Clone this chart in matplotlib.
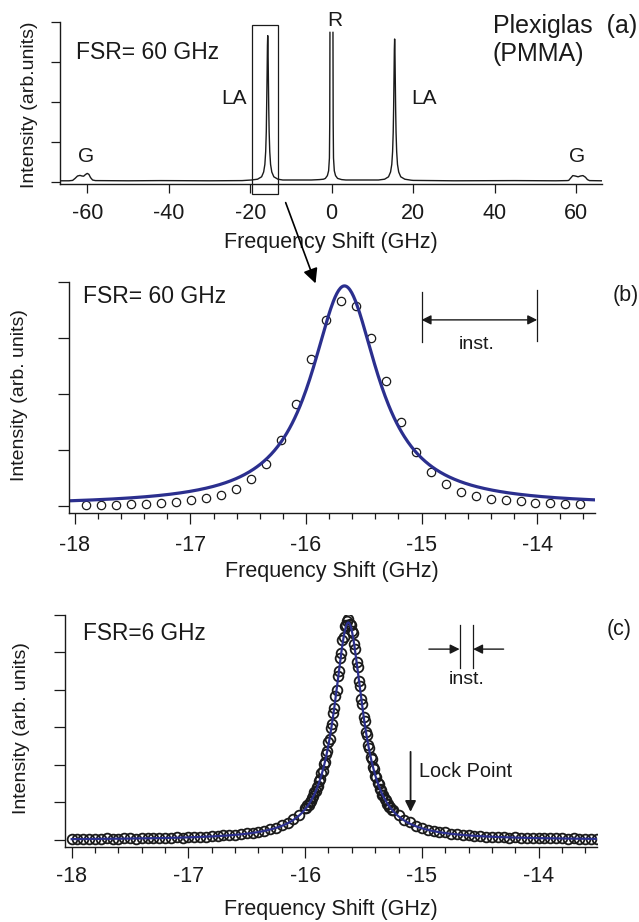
import numpy as np
import matplotlib
matplotlib.use("Agg")
import matplotlib.pyplot as plt
from matplotlib.patches import Rectangle, FancyArrowPatch
from matplotlib.ticker import MultipleLocator

plt.rcParams['font.family'] = ['Liberation Sans', 'DejaVu Sans']
plt.rcParams['axes.unicode_minus'] = False

W, H = 639, 922
INK = '#1a1a1a'
BLUE = '#2b2f8e'

# ---- panel (a): full spectrum, FSR 60 GHz (intensity in tick units) ----
a_x = [-66.5, -64.5, -63.6, -63.0, -62.4, -61.8, -61.3, -60.9, -60.4, -60.0, -59.6, -59.2, -58.7, -58.0,
       -50, -42, -30, -22, -19.7, -18.2, -17.2, -16.7, -16.4, -16.2, -16.05, -15.85, -15.77, -15.7,
       -15.63, -15.55, -15.45, -15.35, -15.2, -15.0, -14.7, -14.2, -13.2, -12, -8, -5, -3.0, -2.0,
       -1.55, -1.05, -0.75, -0.55, -0.47, -0.42, np.nan, 0.32, 0.37, 0.45, 0.65, 0.95, 1.45, 2.45, 3.5,
       8, 11.5, 13.0, 13.96, 14.46, 14.76, 14.96, 15.11, 15.21, 15.31, 15.39, 15.46, 15.53, 15.61,
       15.71, 15.81, 15.96, 16.16, 16.46, 16.96, 17.96, 19.5, 20, 30, 45, 55, 57.8, 58.2, 58.7, 59.2,
       59.8, 60.5, 61.1, 61.7, 62.3, 62.8, 63.3, 66.3]
a_y = [0.03, 0.03, 0.04, 0.09, 0.15, 0.165, 0.15, 0.145, 0.19, 0.215, 0.19, 0.11, 0.05, 0.035,
       0.03, 0.035, 0.03, 0.035, 0.05, 0.07, 0.13, 0.25, 0.44, 0.76, 1.26, 2.70, 3.40, 3.66,
       3.40, 2.70, 1.85, 1.26, 0.76, 0.44, 0.25, 0.13, 0.07, 0.05, 0.05, 0.05, 0.06, 0.07,
       0.09, 0.16, 0.28, 0.60, 1.50, 3.74, np.nan, 3.74, 1.50, 0.60, 0.28, 0.16, 0.09, 0.06, 0.05,
       0.05, 0.05, 0.07, 0.13, 0.25, 0.44, 0.76, 1.24, 1.82, 2.64, 3.32, 3.575, 3.32, 2.64,
       1.82, 1.24, 0.76, 0.44, 0.25, 0.13, 0.07, 0.045, 0.04, 0.03, 0.035, 0.03, 0.035, 0.04, 0.10, 0.16,
       0.15, 0.13, 0.15, 0.16, 0.12, 0.06, 0.035, 0.03]

# ---- panel (b): zoom on LA peak, FSR 60 GHz ----
b_x = np.round(-17.90 + 0.1295 * np.arange(34), 3)
b_y = [0.018, 0.024, 0.030, 0.036, 0.047, 0.059, 0.077, 0.107, 0.142, 0.196, 0.309, 0.487,
       0.748, 1.181, 1.816, 2.623, 3.318, 3.656, 3.561, 2.991, 2.226, 1.496, 0.967, 0.605,
       0.392, 0.261, 0.190, 0.136, 0.107, 0.089, 0.065, 0.053, 0.047, 0.047]
b_fit = dict(x0=-15.667, gamma=0.35, amp=3.91, base=0.015)

# ---- panel (c): FSR 6 GHz ----
c_x = np.concatenate([np.round(-18.00 + 0.05 * np.arange(40), 3),
                      np.round(-16.00 + 0.01 * np.arange(75), 3),
                      np.round(-15.25 + 0.05 * np.arange(36), 3)])
c_y = [0.02, 0.03, 0.02, 0.03, 0.03, 0.02, 0.04, 0.03, 0.03, 0.04, 0.04, 0.03, 0.05, 0.04,
       0.05, 0.06, 0.05, 0.06, 0.07, 0.06, 0.07, 0.08, 0.08, 0.09, 0.10, 0.10, 0.12, 0.12,
       0.14, 0.15, 0.18, 0.18, 0.22, 0.24, 0.29, 0.32, 0.39, 0.44, 0.55, 0.66,
       0.85, 0.86, 0.93, 0.94, 1.02, 1.04, 1.13, 1.16, 1.27, 1.30, 1.41, 1.44, 1.58, 1.62,
       1.78, 1.84, 2.02, 2.08, 2.30, 2.37, 2.61, 2.70, 2.98, 3.10, 3.39, 3.53, 3.85, 4.01,
       4.36, 4.51, 4.86, 4.99, 5.33, 5.41, 5.70, 5.72, 5.85, 5.90, 5.77, 5.74, 5.58, 5.51,
       5.22, 5.10, 4.74, 4.62, 4.24, 4.10, 3.75, 3.62, 3.29, 3.18, 2.88, 2.79, 2.52, 2.44,
       2.21, 2.15, 1.94, 1.90, 1.71, 1.68, 1.51, 1.49, 1.35, 1.34, 1.21, 1.20, 1.08, 1.07,
       0.97, 0.97, 0.88, 0.88, 0.81,
       0.80, 0.66, 0.53, 0.47, 0.38, 0.33, 0.27, 0.25, 0.21, 0.20, 0.16, 0.15, 0.13, 0.13,
       0.11, 0.10, 0.09, 0.09, 0.07, 0.08, 0.06, 0.07, 0.05, 0.06, 0.05, 0.05, 0.04, 0.05,
       0.04, 0.04, 0.03, 0.04, 0.03, 0.03, 0.03, 0.03]
c_fit = dict(x0=-15.63, gamma=0.15, amp=5.80, base=0.0)


def lorentz(x, x0, gamma, amp, base):
    return base + amp / (1 + ((x - x0) / gamma) ** 2)


def add_ax(left, top, right, bottom):
    ax = fig.add_axes([left / W, 1 - bottom / H, (right - left) / W, (bottom - top) / H])
    for s in ['top', 'right']:
        ax.spines[s].set_visible(False)
    for s in ['left', 'bottom']:
        ax.spines[s].set_linewidth(1.0)
        ax.spines[s].set_color(INK)
    ax.tick_params(direction='out', colors=INK, labelsize=15.5, width=0.9)
    ax.set_yticklabels([])
    return ax


fig = plt.figure(figsize=(W / 100, H / 100), dpi=100)

# --- (a) ---
ax = add_ax(60, 22, 601.7, 184)
ax.plot(a_x, a_y, color=INK, lw=1.0)
ax.set_xlim(-66.7, 66.3)
ax.set_ylim(-0.05, 4.0)
ax.set_xticks([-60, -40, -20, 0, 20, 40, 60])
ax.set_yticks([0, 1, 2, 3, 4])
ax.set_yticklabels([])
ax.tick_params(axis='both', length=6.5)
ax.tick_params(axis='x', pad=7)
ax.set_xlabel('Frequency Shift (GHz)', fontsize=15.5, color=INK)
ax.xaxis.set_label_coords(0.5, -0.36)
ax.xaxis.label.set_va('center')
ax.set_ylabel('Intensity (arb.units)', fontsize=14, color=INK)
ax.yaxis.set_label_coords(-0.057, 0.49)
ax.yaxis.label.set_va('center')
ax.add_patch(Rectangle((-19.6, -0.3), 6.5, 4.225, fill=False, lw=0.9, ec=INK, clip_on=False))
ax.text(0.0295, 0.809, 'FSR= 60 GHz', transform=ax.transAxes, fontsize=16.5, color=INK, va='center')
ax.text(-23.9, 2.1, 'LA', fontsize=15, color=INK, ha='center', va='center')
ax.text(22.6, 2.1, 'LA', fontsize=15, color=INK, ha='center', va='center')
ax.text(0.66, 4.03, 'R', fontsize=15, color=INK, ha='center', va='center', clip_on=False)
ax.text(-60.4, 0.64, 'G', fontsize=15, color=INK, ha='center', va='center')
ax.text(60.3, 0.64, 'G', fontsize=15, color=INK, ha='center', va='center')
fig.text(493 / W, 1 - 25.7 / H, 'Plexiglas  (a)', fontsize=18, color=INK, va='center')
fig.text(492 / W, 1 - 54 / H, '(PMMA)', fontsize=18, color=INK, va='center')

# arrow from the box down to panel (b)
fig.add_artist(FancyArrowPatch((284.7 / W, 1 - 200 / H), (316.5 / W, 1 - 286 / H),
                               transform=fig.transFigure, arrowstyle='-|>',
                               mutation_scale=22, lw=1.2, color='black'))

# --- (b) ---
ax = add_ax(69, 281.7, 595, 512.7)
xf = np.linspace(-18.05, -13.5, 600)
ax.plot(b_x, b_y, 'o', mfc='none', mec=INK, ms=6, mew=0.9)
ax.plot(xf, lorentz(xf, **b_fit), color=BLUE, lw=2.3)
ax.set_xlim(-18.05, -13.5)
ax.set_ylim(-0.114, 4.0)
ax.set_xticks([-18, -17, -16, -15, -14])
ax.xaxis.set_minor_locator(MultipleLocator(0.2))
ax.set_yticks([0, 1, 2, 3, 4])
ax.set_yticklabels([])
ax.tick_params(axis='both', which='major', length=7.7)
ax.tick_params(axis='x', which='minor', length=4, width=0.9, colors=INK)
ax.tick_params(axis='x', pad=8)
ax.set_xlabel('Frequency Shift (GHz)', fontsize=15.5, color=INK)
ax.xaxis.set_label_coords(0.5, -0.255)
ax.xaxis.label.set_va('center')
ax.set_ylabel('Intensity (arb. units)', fontsize=14, color=INK)
ax.yaxis.set_label_coords(-0.095, 0.51)
ax.yaxis.label.set_va('center')
ax.text(0.027, 0.935, 'FSR= 60 GHz', transform=ax.transAxes, fontsize=16.5, color=INK, va='center')
ax.plot([-15, -15], [2.93, 3.82], color=INK, lw=0.9)
ax.plot([-14, -14], [2.95, 3.86], color=INK, lw=0.9)
ax.annotate('', xy=(-14, 3.32), xytext=(-15, 3.32),
            arrowprops=dict(arrowstyle='<|-|>', color=INK, lw=1.0, mutation_scale=14, shrinkA=0, shrinkB=0))
ax.text(-14.52, 2.89, 'inst.', fontsize=14, color=INK, ha='center', va='center')
fig.text(626 / W, 1 - 295 / H, '(b)', fontsize=15.5, color=INK, ha='center', va='center')

# --- (c) ---
ax = add_ax(65, 615, 597, 846.7)
ax.plot(c_x, c_y, 'o', mfc='none', mec=INK, ms=7, mew=1.3)
xf = np.linspace(-18.0, -13.5, 900)
ax.plot(xf, lorentz(xf, **c_fit), color=BLUE, lw=1.6)
ax.set_xlim(-18.057, -13.5)
ax.set_ylim(-0.18, 6.0)
ax.set_xticks([-18, -17, -16, -15, -14])
ax.xaxis.set_minor_locator(MultipleLocator(0.2))
ax.set_yticks([0, 1, 2, 3, 4, 5, 6])
ax.set_yticklabels([])
ax.tick_params(axis='both', which='major', length=7.7)
ax.tick_params(axis='x', which='minor', length=4, width=0.9, colors=INK)
ax.tick_params(axis='x', pad=6)
ax.set_xlabel('Frequency Shift (GHz)', fontsize=15.5, color=INK)
ax.xaxis.set_label_coords(0.5, -0.273)
ax.xaxis.label.set_va('center')
ax.set_ylabel('Intensity (arb. units)', fontsize=14, color=INK)
ax.yaxis.set_label_coords(-0.081, 0.51)
ax.yaxis.label.set_va('center')
ax.text(0.034, 0.918, 'FSR=6 GHz', transform=ax.transAxes, fontsize=16.3, color=INK, va='center')
ax.plot([-14.677, -14.677], [4.58, 5.73], color=INK, lw=0.9)
ax.plot([-14.561, -14.561], [4.58, 5.73], color=INK, lw=0.9)
ax.annotate('', xy=(-14.677, 5.09), xytext=(-14.94, 5.09),
            arrowprops=dict(arrowstyle='-|>', color=INK, lw=1.0, mutation_scale=14, shrinkA=0, shrinkB=0))
ax.annotate('', xy=(-14.561, 5.09), xytext=(-14.30, 5.09),
            arrowprops=dict(arrowstyle='-|>', color=INK, lw=1.0, mutation_scale=14, shrinkA=0, shrinkB=0))
ax.text(-14.62, 4.27, 'inst.', fontsize=14, color=INK, ha='center', va='center')
ax.annotate('', xy=(-15.097, 0.75), xytext=(-15.097, 2.35),
            arrowprops=dict(arrowstyle='-|>', color=INK, lw=1.3, mutation_scale=16, shrinkA=0, shrinkB=0))
ax.text(-15.027, 1.82, 'Lock Point', fontsize=14.3, color=INK, va='center')
fig.text(619 / W, 1 - 630 / H, '(c)', fontsize=15.5, color=INK, ha='center', va='center')

fig.savefig('out.png', dpi=100)
